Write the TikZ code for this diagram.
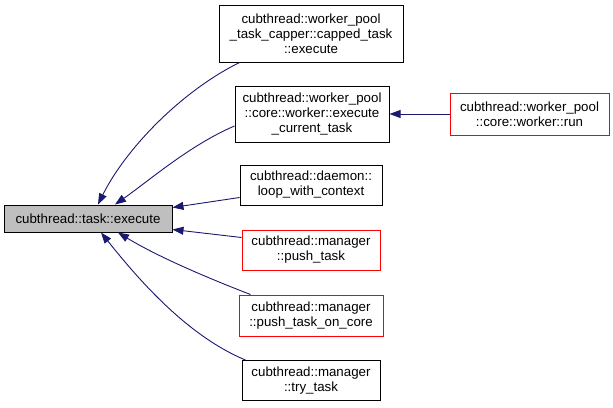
\documentclass[tikz,border=0pt]{standalone}
\usepackage{fontspec}
\setmainfont{Liberation Sans}
\usetikzlibrary{arrows.meta}
\definecolor{edgeblue}{HTML}{191970}
\definecolor{mainfill}{HTML}{BFBFBF}
\definecolor{boxred}{HTML}{FF0000}
\tikzset{
  box/.style={draw=black, line width=1pt, rectangle, align=center, inner sep=0pt,
    font=\fontsize{13.3}{15}\selectfont},
  redbox/.style={box, draw=boxred},
  edge/.style={draw=edgeblue, line width=0.9pt, -{Triangle[length=11pt,width=8pt]}},
}
\begin{document}
\begin{tikzpicture}[x=1pt,y=-1pt]
\useasboundingbox (0,0) rectangle (613,407);
\node[box, fill=mainfill, minimum width=168, minimum height=27] (main) at (88,218.5) {cubthread::task::execute};
\node[box, minimum width=184, minimum height=57] (A) at (311,33.5) {cubthread::worker\_pool\\\_task\_capper::capped\_task\\::execute};
\node[box, minimum width=154, minimum height=56] (B) at (312,114) {cubthread::worker\_pool\\::core::worker::execute\\\_current\_task};
\node[redbox, minimum width=159, minimum height=42] (C) at (529.5,114) {cubthread::worker\_pool\\::core::worker::run};
\node[box, minimum width=142, minimum height=40] (D) at (311,185) {cubthread::daemon::\\loop\_with\_context};
\node[redbox, minimum width=138, minimum height=40] (E) at (311,250) {cubthread::manager\\::push\_task};
\node[redbox, minimum width=144, minimum height=41] (F) at (311,315.5) {cubthread::manager\\::push\_task\_on\_core};
\node[box, minimum width=138, minimum height=40] (G) at (311,380.5) {cubthread::manager\\::try\_task};

\draw[edge] (C.west) -- (B.east);
\draw[edge] ([xshift=21]A.south west) .. controls (180,92) and (125,150) .. ([xshift=10]main.north);
\draw[edge] ([yshift=-12]B.west) .. controls (190,145) and (150,180) .. ([xshift=27]main.north);
\draw[edge] ([yshift=8]D.south west) -- ([yshift=-3]main.north east);
\draw[edge] ([yshift=-8]E.north west) -- ([yshift=3]main.south east);
\draw[edge] ([xshift=12]F.north west) .. controls (200,275) and (155,255) .. ([xshift=30]main.south);
\draw[edge] ([xshift=4]G.north west) .. controls (185,335) and (135,275) .. ([xshift=13]main.south);
\end{tikzpicture}
\end{document}
